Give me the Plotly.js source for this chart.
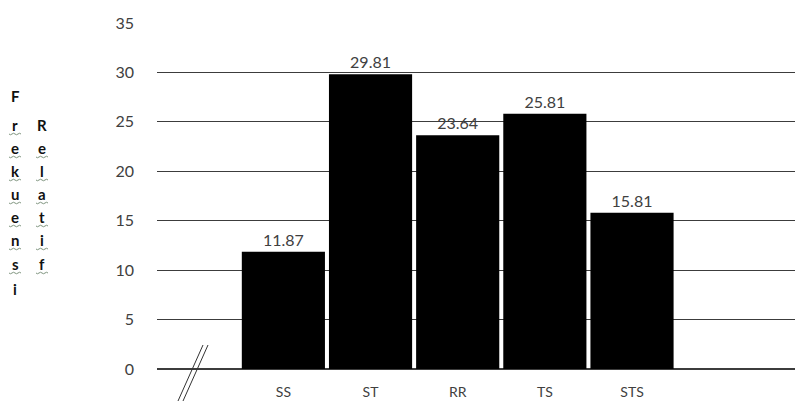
<!DOCTYPE html>
<html>
<head>
<meta charset="utf-8">
<script src="https://cdn.plot.ly/plotly-3.0.1.min.js"></script>
<style>
  html, body { margin: 0; padding: 0; background: #fff; }
  #chart { width: 795px; height: 403px; }
</style>
</head>
<body>
<div id="chart"></div>
<script>
// Kategori jawaban dan frekuensi relatif (%)
const categories = ['SS', 'ST', 'RR', 'TS', 'STS'];
const values = [11.87, 29.81, 23.64, 25.81, 15.81];
const valueLabels = ['11.87', '29.81', '23.64', '25.81', '15.81'];
const yTicks = [0, 5, 10, 15, 20, 25, 30, 35];

// Vertical axis caption, written letter by letter in two columns
const titleLeft = ['F', 'r', 'e', 'k', 'u', 'e', 'n', 's', 'i'];
const titleRight = ['R', 'e', 'l', 'a', 't', 'i', 'f'];

const W = 795, H = 403;
const M = { l: 157, r: 0, t: 23, b: 34 };
const plotW = W - M.l - M.r, plotH = H - M.t - M.b;
const px = x => (x - M.l) / plotW;          // pixel -> paper x
const py = y => (H - M.b - y) / plotH;      // pixel -> paper y

const annotations = [];
const shapes = [];
const letterFont = { family: 'Lato, Liberation Sans, sans-serif', size: 15, color: '#111' };
const rowY = [96, 125, 148, 171, 194, 217, 240, 264, 289];

// wavy underline below a letter (spell-check style)
function squiggle(cx, cy) {
  let d = 'M ' + px(cx - 6) + ' ' + py(cy);
  for (let k = 0; k < 4; k++) {
    const x0 = cx - 6 + k * 3;
    d += ' Q ' + px(x0 + 1.5) + ' ' + py(cy + (k % 2 ? -1.5 : 1.5)) + ' ' + px(x0 + 3) + ' ' + py(cy);
  }
  shapes.push({ type: 'path', xref: 'paper', yref: 'paper', path: d,
    line: { color: '#7f957f', width: 1 } });
}

titleLeft.forEach((ch, i) => {
  annotations.push({
    text: '<b>' + ch + '</b>', xref: 'paper', yref: 'paper', x: px(15), y: py(rowY[i]),
    xanchor: 'center', yanchor: 'middle', showarrow: false, font: letterFont
  });
  if (i > 0 && i < titleLeft.length - 1) squiggle(15, rowY[i] + 9);
});
titleRight.forEach((ch, i) => {
  annotations.push({
    text: '<b>' + ch + '</b>', xref: 'paper', yref: 'paper', x: px(42), y: py(rowY[i + 1]),
    xanchor: 'center', yanchor: 'middle', showarrow: false, font: letterFont
  });
  if (i > 0) squiggle(42, rowY[i + 1] + 9);
});

// Axis break mark near the origin
shapes.push(
  { type: 'line', xref: 'paper', yref: 'paper', x0: px(178), y0: py(401), x1: px(203), y1: py(345),
    line: { color: '#333', width: 1 } },
  { type: 'line', xref: 'paper', yref: 'paper', x0: px(183), y0: py(401), x1: px(208), y1: py(345),
    line: { color: '#333', width: 1 } }
);

const trace = {
  type: 'bar',
  x: categories,
  y: values,
  text: valueLabels,
  textposition: 'outside',
  cliponaxis: false,
  textfont: { family: 'Lato, Liberation Sans, sans-serif', size: 16, color: '#404040' },
  marker: { color: '#000', line: { width: 0 } },
  hoverinfo: 'none'
};

const layout = {
  width: W, height: H,
  margin: M,
  paper_bgcolor: '#fff', plot_bgcolor: '#fff',
  showlegend: false,
  bargap: 0.046,
  font: { family: 'Lato, Liberation Sans, sans-serif', color: '#404040' },
  xaxis: {
    type: 'category',
    range: [-1.45, 5.87],
    showgrid: false, zeroline: false, showline: false,
    ticks: '', ticklabelstandoff: 13,
    tickfont: { size: 14, color: '#404040' },
    fixedrange: true
  },
  yaxis: {
    range: [0, 35],
    tickvals: yTicks,
    ticktext: yTicks.map(String),
    showgrid: true, gridcolor: '#3c3c3c', gridwidth: 1.2,
    zeroline: true, zerolinecolor: '#3c3c3c', zerolinewidth: 1.2,
    showline: false, ticks: '', ticklabelstandoff: 22,
    tickfont: { size: 16, color: '#404040' },
    fixedrange: true
  },
  annotations: annotations,
  shapes: shapes
};

Plotly.newPlot('chart', [trace], layout, { displayModeBar: false, staticPlot: true });
</script>
</body>
</html>
